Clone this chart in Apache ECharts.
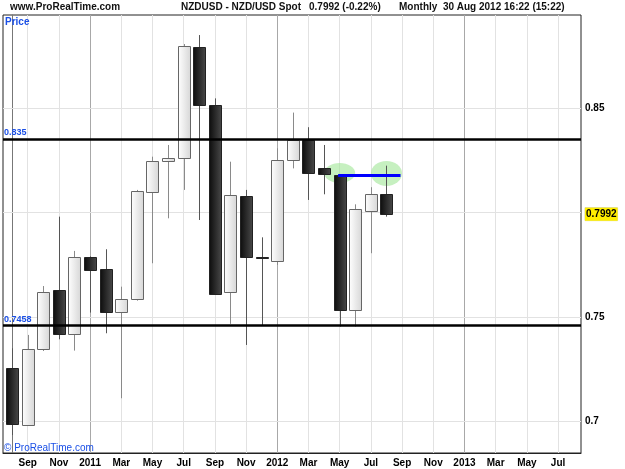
<!DOCTYPE html>
<html><head><meta charset="utf-8">
<script src="https://cdn.jsdelivr.net/npm/echarts@6/dist/echarts.min.js"></script>
<style>html,body{margin:0;padding:0;background:#fff}#c{width:625px;height:469px}</style>
</head><body><div id="c"></div>
<script>
// Months: index 0 = Aug 2010 ... 24 = Aug 2012
const months = ['Aug 2010','Sep 2010','Oct 2010','Nov 2010','Dec 2010','Jan 2011','Feb 2011','Mar 2011','Apr 2011','May 2011','Jun 2011','Jul 2011','Aug 2011','Sep 2011','Oct 2011','Nov 2011','Dec 2011','Jan 2012','Feb 2012','Mar 2012','Apr 2012','May 2012','Jun 2012','Jul 2012','Aug 2012'];
const opens  = [0.7257,0.6983,0.7347,0.7629,0.7417,0.7786,0.7728,0.7523,0.7588,0.8100,0.8246,0.8262,0.8790,0.8514,0.7621,0.8080,0.7786,0.7768,0.8251,0.8347,0.8214,0.8179,0.7533,0.8007,0.8087];
const closes = [0.6988,0.7347,0.7621,0.7417,0.7786,0.7725,0.7523,0.7588,0.8101,0.8245,0.8259,0.8797,0.8514,0.7609,0.8084,0.7786,0.7782,0.8251,0.8347,0.8188,0.8184,0.7533,0.8015,0.8087,0.7992];
const lows   = [0.6935,0.6980,0.7337,0.7393,0.7339,0.7521,0.7422,0.7111,0.7578,0.7757,0.7972,0.8108,0.7964,0.7605,0.7467,0.7366,0.7457,0.7749,0.8211,0.8060,0.8087,0.7454,0.7454,0.7805,0.7980];
const highs  = [0.7350,0.7414,0.7648,0.7980,0.7816,0.7790,0.7824,0.7645,0.8108,0.8267,0.8323,0.8806,0.8849,0.8546,0.8243,0.8108,0.7881,0.8307,0.8478,0.8408,0.8323,0.8179,0.8039,0.8121,0.8224];

// x tick positions (month index) and labels
const xTickPos    = [1,3,5,7,9,11,13,15,17,19,21,23,25,27,29,31,33,35];
const xTickLabels = ['Sep','Nov','2011','Mar','May','Jul','Sep','Nov','2012','Mar','May','Jul','Sep','Nov','2013','Mar','May','Jul'];
const yGridValues = [0.7,0.75,0.8,0.85];
const yLabelValues = [0.7,0.75,0.7992,0.85];
const lastPrice = 0.7992;
const levels = [0.835, 0.7458];
const levelLabels = ['0.835','0.7458'];
// annotation: blue segment and two green highlights
const blueSeg = {x0: 20.9, x1: 24.9, y: 0.8178};
const highlights = [[21, 0.8189], [24, 0.8187]];
const highlightSizes = [[31,20],[31,25]];

const blue = '#1a4fe6';
const candleData = months.map((m,i)=>[i, opens[i], closes[i], lows[i], highs[i]]);

const chart = echarts.init(document.getElementById('c'), null, {renderer:'canvas'});
const vLines = xTickPos.map((p,i)=>({xAxis:p, lineStyle:{color: /^\d{4}$/.test(xTickLabels[i]) ? '#a8a8a8' : '#e2e2e2', width:1, type:'solid'}}));
const hLines = yGridValues.map(v=>({yAxis:v, lineStyle:{color:'#e2e2e2', width:1, type:'solid'}}));

const upFill = new echarts.graphic.LinearGradient(0,0,1,0,[{offset:0,color:'#ffffff'},{offset:1,color:'#d6d6d6'}]);
const downFill = new echarts.graphic.LinearGradient(0,0,1,0,[{offset:0,color:'#0c0c0c'},{offset:1,color:'#4a4a4a'}]);

function renderCandle(params, api){
  const x = api.value(0), o = api.value(1), c = api.value(2), l = api.value(3), h = api.value(4);
  const pO = api.coord([x,o]), pC = api.coord([x,c]), pL = api.coord([x,l]), pH = api.coord([x,h]);
  const cx = Math.round(pO[0]) + 0.5;
  const up = c >= o;
  const top = Math.round(Math.min(pO[1], pC[1])) + 0.5;
  const bot = Math.max(Math.round(Math.max(pO[1], pC[1])) + 0.5, top + 1);
  const w = 12;
  return {type:'group', children:[
    {type:'line', shape:{x1:cx, y1:pH[1], x2:cx, y2:pL[1]}, style:{stroke: up ? '#8a8a8a' : '#555', lineWidth:1}},
    {type:'rect', shape:{x:cx - w/2, y:top, width:w, height:bot-top},
      style:{fill: up ? upFill : downFill, stroke: up ? '#666' : '#222', lineWidth:1}}
  ]};
}

chart.setOption({
  animation:false,
  backgroundColor:'#fff',
  textStyle:{fontFamily:'Liberation Sans, Arial, sans-serif'},
  grid:{left:3, right:44, top:15, bottom:16, show:true, borderColor:'#222', borderWidth:1, backgroundColor:'#fff'},
  graphic:[
    {type:'text', left:10, top:2, style:{text:'www.ProRealTime.com', font:'bold 10px Liberation Sans, Arial', fill:'#111'}},
    {type:'text', left:181, top:2, style:{text:'NZDUSD - NZD/USD Spot', font:'bold 10px Liberation Sans, Arial', fill:'#111'}},
    {type:'text', left:309, top:2, style:{text:'0.7992 (-0.22%)', font:'bold 10px Liberation Sans, Arial', fill:'#111'}},
    {type:'text', left:399, top:2, style:{text:'Monthly  30 Aug 2012 16:22 (15:22)', font:'bold 10px Liberation Sans, Arial', fill:'#111'}},
    {type:'text', left:5, top:17, z:100, style:{text:'Price', font:'bold 10px Liberation Sans, Arial', fill:blue}},
    {type:'text', left:4, top:443, z:100, style:{text:'\u00a9 ProRealTime.com', font:'10px Liberation Sans, Arial', fill:blue}}
  ],
  xAxis:{
    type:'value', min:-0.583, max:36.47,
    axisLine:{show:true, lineStyle:{color:'#222'}},
    axisTick:{show:false},
    splitLine:{show:false},
    axisLabel:{customValues:xTickPos, margin:5, color:'#000', fontWeight:'bold', fontSize:10,
      formatter:(v)=>{const i=xTickPos.indexOf(Math.round(v)); return i>=0?xTickLabels[i]:'';}}
  },
  yAxis:{
    type:'value', position:'right', min:0.6849, max:0.8945, scale:true,
    axisLine:{show:true, lineStyle:{color:'#777', width:1}},
    axisTick:{show:true, customValues:yGridValues, length:4, lineStyle:{color:'#bbb'}},
    splitLine:{show:false},
    axisLabel:{customValues:yLabelValues, margin:4, color:'#000', fontWeight:'bold', fontSize:10,
      formatter:(v)=> Math.abs(v-lastPrice)<1e-6 ? '{hl|'+v.toFixed(4)+'}' : String(v),
      rich:{hl:{backgroundColor:'#ffee00', borderColor:'#d8d8a0', borderWidth:0.5, padding:[2,1,1,1], fontWeight:'bold', fontSize:10, color:'#000'}}}
  },
  series:[
    {type:'scatter', z:1, data:[], silent:true,
      markLine:{silent:true, z:1, precision:4, symbol:['none','none'], label:{show:false}, data: vLines.concat(hLines)}},
    {type:'scatter', z:2, silent:true, data: highlights.map((p,i)=>({value:p, symbolSize:highlightSizes[i]})),
      symbol:'circle', itemStyle:{color:'rgba(160,230,150,0.75)'}},
    {type:'custom', z:3, silent:true, data:candleData, encode:{x:0, y:[1,2,3,4]}, renderItem:renderCandle},
    {type:'scatter', z:4, data:[], silent:true,
      markLine:{silent:true, z:5, precision:4, symbol:['none','none'],
        data: levels.map((v,i)=>({yAxis:v, lineStyle:{color:'#000', width:2.5, type:'solid'},
          label:{show:true, position:'insideStartTop', formatter:levelLabels[i], color:blue, fontWeight:'bold', fontSize:9, distance:[1,2]}}))
        .concat([[{coord:[blueSeg.x0, blueSeg.y]},{coord:[blueSeg.x1, blueSeg.y], lineStyle:{color:'#0000ff', width:3, type:'solid'}, label:{show:false}}]])
      }}
  ]
});
</script></body></html>
